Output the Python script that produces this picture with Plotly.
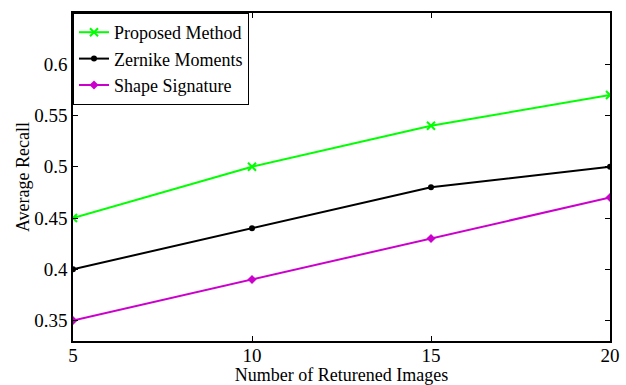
import plotly.graph_objects as go

x_vals = [5, 10, 15, 20]
proposed = [0.45, 0.50, 0.54, 0.57]
zernike = [0.40, 0.44, 0.48, 0.50]
shape_sig = [0.35, 0.39, 0.43, 0.47]
x_ticks = [5, 10, 15, 20]
y_ticks = [0.35, 0.4, 0.45, 0.5, 0.55, 0.6]
y_tick_labels = ["0.35", "0.4", "0.45", "0.5", "0.55", "0.6"]

FF = "Liberation Serif"
FS = 19

fig = go.Figure()
fig.add_trace(go.Scatter(x=x_vals, y=proposed, mode="lines+markers", name="Proposed Method",
                         line=dict(color="#00FF00", width=2),
                         marker=dict(symbol="x-thin", size=8, color="#00FF00",
                                     line=dict(color="#00FF00", width=2))))
fig.add_trace(go.Scatter(x=x_vals, y=zernike, mode="lines+markers", name="Zernike Moments",
                         line=dict(color="#000000", width=2),
                         marker=dict(symbol="circle", size=6, color="#000000")))
fig.add_trace(go.Scatter(x=x_vals, y=shape_sig, mode="lines+markers", name="Shape Signature",
                         line=dict(color="#CC00CC", width=2),
                         marker=dict(symbol="diamond", size=7, color="#CC00CC")))

axis_style = dict(showline=True, linecolor="black", linewidth=1.5, mirror="ticks",
                  ticks="inside", ticklen=5, tickcolor="black", tickwidth=1,
                  showgrid=False, zeroline=False, tickmode="array",
                  tickfont=dict(family=FF, size=FS, color="black"))

fig.update_layout(
    template="none",
    width=626, height=385,
    margin=dict(l=73, r=16, t=13, b=44, pad=0),
    plot_bgcolor="white", paper_bgcolor="white",
    font=dict(family=FF, color="black", size=FS),
    xaxis=dict(range=[5, 20], tickvals=x_ticks, ticklabelstandoff=-4,
               title=dict(text="Number of Returened Images", standoff=2,
                          font=dict(family=FF, size=18, color="black")),
               **axis_style),
    yaxis=dict(range=[0.33, 0.65], tickvals=y_ticks, ticktext=y_tick_labels,
               title=dict(text="Average Recall", standoff=0,
                          font=dict(family=FF, size=18, color="black")),
               **axis_style),
    legend=dict(x=0, y=1, xanchor="left", yanchor="top",
                bordercolor="black", borderwidth=1, bgcolor="white",
                font=dict(family=FF, size=18, color="black"),
                itemwidth=30, tracegroupgap=0),
    showlegend=True,
)

fig.write_html("out.html", config={"displayModeBar": False},
               post_script="document.body.style.margin='0px';")
